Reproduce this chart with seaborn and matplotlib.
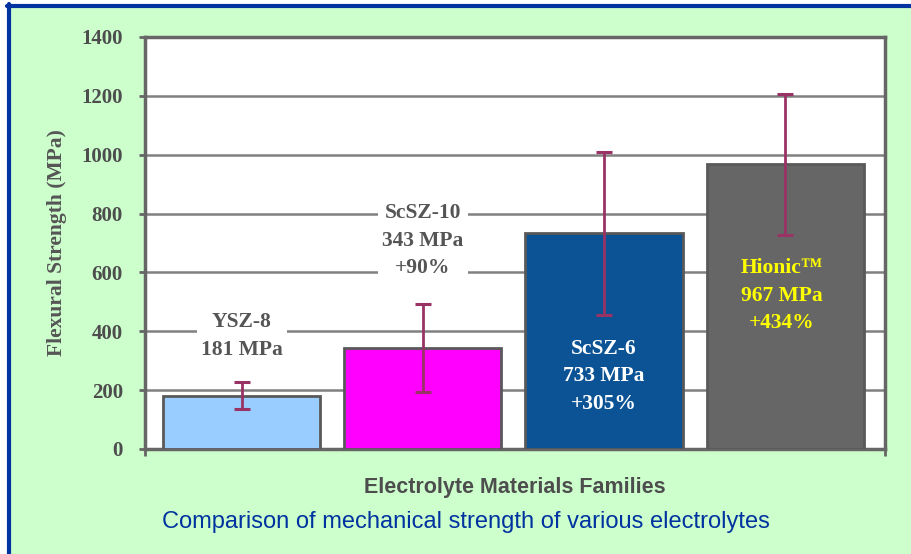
import matplotlib
matplotlib.use("Agg")
import matplotlib.pyplot as plt
import seaborn as sns
import pandas as pd
from matplotlib.lines import Line2D

# ---- data ----
materials = ["YSZ-8", "ScSZ-10", "ScSZ-6", "Hionic"]
strength = [181, 343, 733, 967]
err = [45, 150, 277, 240]
labels = ["YSZ-8\n181 MPa", "ScSZ-10\n343 MPa\n+90%", "ScSZ-6\n733 MPa\n+305%", "Hionic\u2122\n967 MPa\n+434%"]
label_y = [384, 707, 248, 520]
label_col = ["#555555", "#555555", "white", "#FFFF00"]
label_box = [True, True, False, False]
bar_colors = ["#99CCFF", "#FF00FF", "#0B5394", "#666666"]
yticks = [0, 200, 400, 600, 800, 1000, 1200, 1400]

df = pd.DataFrame({"material": materials, "strength": strength})

sns.set_theme(style="white")
plt.rcParams["font.family"] = ["Liberation Serif", "DejaVu Serif"]

W, H = 911, 554
fig = plt.figure(figsize=(W / 100, H / 100), dpi=100, facecolor="white")
ax = fig.add_axes([145 / W, 1 - 449 / H, 740 / W, 412 / H])

# green panel + blue border (top and left only, the picture is cropped)
fig.patches.append(plt.Rectangle((9 / W, 0), 1, 1 - 6 / H, transform=fig.transFigure,
                                 facecolor="#CCFFCC", edgecolor="none", zorder=-10))
fig.lines.append(Line2D([7 / W, 1], [1 - 6 / H, 1 - 6 / H], transform=fig.transFigure,
                        color="#0033A0", lw=3))
fig.lines.append(Line2D([9 / W, 9 / W], [0, 1 - 4 / H], transform=fig.transFigure,
                        color="#0033A0", lw=3))

ax.set_facecolor("white")
sns.barplot(data=df, x="material", y="strength", hue="material", palette=bar_colors,
            saturation=1, width=0.867, edgecolor="#595959", linewidth=2, legend=False,
            ax=ax, zorder=3)
ax.errorbar(range(len(materials)), strength, yerr=err, fmt="none", ecolor="#993366",
            elinewidth=2, capsize=5.5, capthick=2.2, zorder=4)

for i, (t, y) in enumerate(zip(labels, label_y)):
    kw = dict(ha="center", va="center", fontsize=15.5, fontweight="bold", color=label_col[i],
              linespacing=1.5, zorder=5)
    if label_box[i]:
        kw["bbox"] = dict(facecolor="white", edgecolor="none", pad=3)
    ax.text(i + (-0.02 if i == 3 else 0), y, t, **kw)

ax.set_ylim(0, 1400)
ax.set_xlim(-0.533, 3.551)
ax.set_yticks(yticks)
ax.set_yticklabels([str(v) for v in yticks], fontsize=15, fontweight="bold", color="#4D4D4D")
ax.set_xticks([-0.533, 3.551])
ax.set_xticklabels(["", ""])
ax.tick_params(axis="y", length=4, width=2, color="#666666", left=True, pad=12)
ax.tick_params(axis="x", length=5, width=2, color="#666666", bottom=True)
ax.yaxis.grid(True, color="#808080", lw=1.8, zorder=0)
ax.set_axisbelow(True)
for s in ax.spines.values():
    s.set_color("#666666")
    s.set_linewidth(2.5)

ax.set_ylabel("Flexural Strength (MPa)", fontsize=15.5, fontweight="bold", color="#555555", labelpad=10)
ax.set_xlabel("Electrolyte Materials Families", fontsize=15.5, fontweight="bold", color="#4D4D4D",
              family="Liberation Sans", labelpad=12)

fig.text(466 / W, 1 - 522 / H, "Comparison of mechanical strength of various electrolytes",
         ha="center", va="center", fontsize=17, color="#0033A0", family="Liberation Sans")

fig.savefig("out.png", dpi=100, facecolor="white")
